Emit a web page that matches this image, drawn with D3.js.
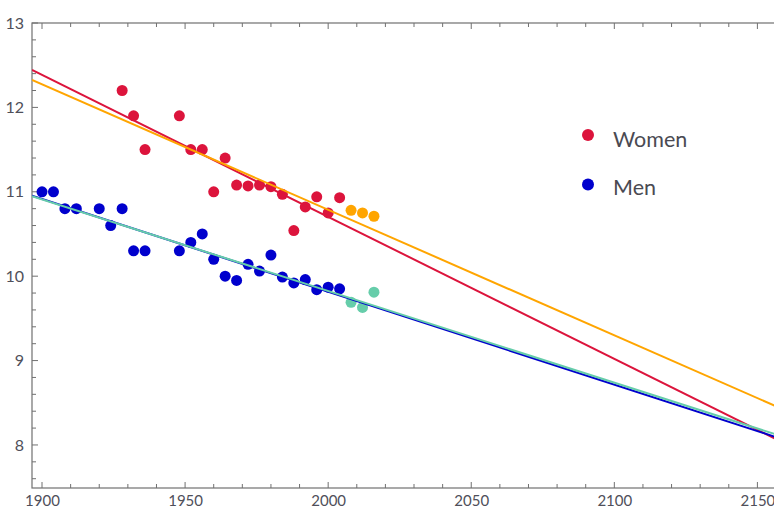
<!DOCTYPE html>
<html>
<head>
<meta charset="utf-8">
<script src="https://cdn.jsdelivr.net/npm/d3@7"></script>
<style>
html,body{margin:0;padding:0;background:#fff;}
svg{display:block;}
</style>
</head>
<body>
<svg id="chart" width="774" height="509"></svg>
<script>
// ---- data ----
const womenYears = [1928,1932,1936,1948,1952,1956,1960,1964,1968,1972,1976,1980,1984,1988,1992,1996,2000,2004];
const womenTimes = [12.2,11.9,11.5,11.9,11.5,11.5,11.0,11.4,11.08,11.07,11.08,11.06,10.97,10.54,10.82,10.94,10.75,10.93];
const womenRecentYears = [2008,2012,2016];
const womenRecentTimes = [10.78,10.75,10.71];
const menYears = [1900,1904,1908,1912,1920,1924,1928,1932,1936,1948,1952,1956,1960,1964,1968,1972,1976,1980,1984,1988,1992,1996,2000,2004];
const menTimes = [11.0,11.0,10.8,10.8,10.8,10.6,10.8,10.3,10.3,10.3,10.4,10.5,10.2,10.0,9.95,10.14,10.06,10.25,9.99,9.92,9.96,9.84,9.87,9.85];
const menRecentYears = [2008,2012,2016];
const menRecentTimes = [9.69,9.63,9.81];
const xTicks = [1900,1950,2000,2050,2100,2150];
const yTicks = [8,9,10,11,12,13];
const legendLabels = ["Women","Men"];

const colors = {women:"#dc143c", womenRecent:"#ffa500", men:"#0000cd", menRecent:"#66cdaa"};

// ---- layout ----
const svg = d3.select("#chart");
const mL = 32, mR = 776, mT = 23, mB = 488;
const x = d3.scaleLinear().domain([1896.5, 2156.5]).range([mL, mR]);
const y = d3.scaleLinear().domain([7.49, 13.0]).range([mB, mT]);

svg.append("defs").append("clipPath").attr("id","clip")
  .append("rect").attr("x",mL).attr("y",mT).attr("width",mR-mL).attr("height",mB-mT);

const frameColor = "#707070";
const labelColor = "#4f4f5a";
const font = "Lato, 'Open Sans', sans-serif";

// frame
svg.append("rect").attr("x",mL).attr("y",mT).attr("width",mR-mL).attr("height",mB-mT)
  .attr("fill","none").attr("stroke",frameColor).attr("stroke-width",1.2);

// x ticks (bottom & top)
const xMinor = d3.range(1900, 2160, 10);
const gx = svg.append("g");
xMinor.forEach(v => {
  const major = xTicks.includes(v);
  const len = major ? 6 : 4;
  gx.append("line").attr("x1",x(v)).attr("x2",x(v)).attr("y1",mB).attr("y2",mB-len)
    .attr("stroke",frameColor).attr("stroke-width",1);
  gx.append("line").attr("x1",x(v)).attr("x2",x(v)).attr("y1",mT).attr("y2",mT+len)
    .attr("stroke",frameColor).attr("stroke-width",1);
});
const xAxis = d3.axisBottom(x).tickValues(xTicks).tickFormat(d3.format("d")).tickSize(0).tickPadding(7);
const xg = svg.append("g").attr("transform",`translate(0,${mB})`).call(xAxis);
xg.select(".domain").remove();
xg.selectAll("text").attr("font-family",font).attr("font-size",15).attr("fill",labelColor);

// y ticks
const yMinor = d3.range(7.6, 13.01, 0.2).map(v => Math.round(v*10)/10);
yMinor.forEach(v => {
  const major = yTicks.includes(v);
  const len = major ? 6 : 4;
  svg.append("line").attr("x1",mL).attr("x2",mL+len).attr("y1",y(v)).attr("y2",y(v))
    .attr("stroke",frameColor).attr("stroke-width",1);
});
const yAxis = d3.axisLeft(y).tickValues(yTicks).tickFormat(d3.format("d")).tickSize(0).tickPadding(8);
const yg = svg.append("g").attr("transform",`translate(${mL},0)`).call(yAxis);
yg.select(".domain").remove();
yg.selectAll("text").attr("font-family",font).attr("font-size",16).attr("fill",labelColor);

// ---- points ----
const plot = svg.append("g").attr("clip-path","url(#clip)");
function dots(years, vals, color){
  plot.append("g").selectAll("circle").data(years.map((d,i)=>[d,vals[i]])).join("circle")
    .attr("cx",d=>x(d[0])).attr("cy",d=>y(d[1])).attr("r",5.5).attr("fill",color);
}
dots(womenYears, womenTimes, colors.women);
dots(womenRecentYears, womenRecentTimes, colors.womenRecent);
dots(menYears, menTimes, colors.men);
dots(menRecentYears, menRecentTimes, colors.menRecent);

// ---- regression lines ----
function fit(xs, ys){
  const mx = d3.mean(xs), my = d3.mean(ys);
  let sxy=0, sxx=0;
  xs.forEach((v,i)=>{ sxy += (v-mx)*(ys[i]-my); sxx += (v-mx)*(v-mx); });
  const b = sxy/sxx;
  return t => my + b*(t-mx);
}
function fitLine(xs, ys, color){
  const f = fit(xs, ys);
  const d0 = x.domain();
  plot.append("line").attr("x1",x(d0[0])).attr("y1",y(f(d0[0])))
    .attr("x2",x(d0[1])).attr("y2",y(f(d0[1])))
    .attr("stroke",color).attr("stroke-width",2);
}
fitLine(womenYears, womenTimes, colors.women);
fitLine(womenYears.concat(womenRecentYears), womenTimes.concat(womenRecentTimes), colors.womenRecent);
fitLine(menYears, menTimes, colors.men);
fitLine(menYears.concat(menRecentYears), menTimes.concat(menRecentTimes), colors.menRecent);

// ---- legend ----
const legend = svg.append("g");
[colors.women, colors.men].forEach((c,i)=>{
  legend.append("circle").attr("cx",588).attr("cy",135 + i*49.5).attr("r",6).attr("fill",c);
  legend.append("text").attr("x",613).attr("y",147 + i*47.5)
    .attr("font-family",font).attr("font-size",21.5).attr("fill","#4a4a52").text(legendLabels[i]);
});
</script>
</body>
</html>
